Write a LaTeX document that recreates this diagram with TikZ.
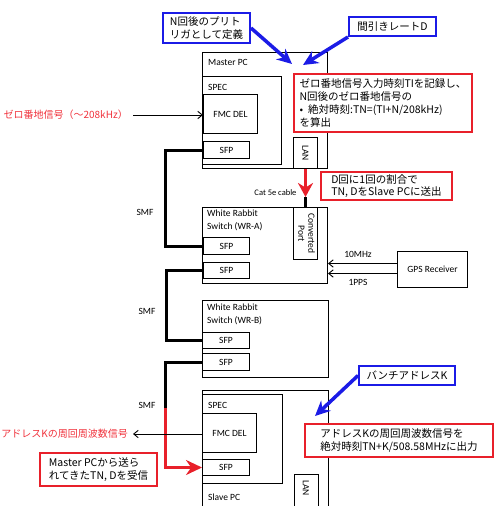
\documentclass[tikz,border=0pt]{standalone}
\usepackage{fontspec}
\usepackage{graphicx}
\setmainfont{Carlito}
\newfontfamily\jp{Noto Sans CJK JP}
\usetikzlibrary{arrows.meta,positioning,calc}
\definecolor{callred}{HTML}{E8202A}
\definecolor{callblue}{HTML}{1B1BE6}
\definecolor{sigred}{HTML}{F0323C}

\begin{document}
\begin{tikzpicture}[x=1pt, y=-1pt,
    font=\fontsize{9.5}{11}\selectfont,
    box/.style={draw, line width=1pt, anchor=north west, inner sep=0pt},
    tag/.style={anchor=west, inner sep=0pt},
    twoline/.style={anchor=north west, inner sep=0pt, align=left, font=\fontsize{9.5}{13}\selectfont},
    note/.style={draw=callred, line width=2pt, fill=white, align=left, inner sep=0pt, font=\jp\fontsize{10.5}{12.8}\selectfont},
    hint/.style={note, draw=callblue},
    redtext/.style={text=sigred, font=\jp\fontsize{10}{12}\selectfont, anchor=east, inner xsep=5pt},
    fiber/.style={line width=3pt},
    sig/.style={-{Straight Barb[length=1.6mm, width=2.6mm]}, line width=0.9pt},
    push/.style={line width=3.5pt, callblue, -{Stealth[length=15pt, width=14pt]}}
  ]
    \useasboundingbox (0,0) rectangle (494,506);

    % Master PC
    \node[box, minimum width=125pt, minimum height=116pt] (master) at (202,52) {};
    \node[tag] (mastertxt) at (208,62) {Master PC};
    \node[box, minimum width=79pt, minimum height=88pt] (mspec) at (202,76) {};
    \node[tag] (mspectxt) at (208,87) {SPEC};
    \node[box, minimum width=54pt, minimum height=39pt] (mfmc) at (203,94) {FMC DEL};
    \node[box, minimum width=46pt, minimum height=17pt] (msfp) at (203,141) {SFP};
    \node[box, minimum width=24pt, minimum height=31pt] (mlan) at (293,137) {\rotatebox{-90}{LAN}};

    % WR-A
    \node[box, minimum width=125pt, minimum height=76pt] (wra) at (202,207) {};
    \node[twoline] (wratxt) at (207,210) {White Rabbit\\Switch (WR-A)};
    \node[box, minimum width=24pt, minimum height=52pt] (conv) at (293,207)
      {\rotatebox{-90}{\begin{tabular}{@{}c@{}}Converted\\[-1pt]Port\end{tabular}}};
    \node[box, minimum width=46pt, minimum height=17pt] (asfp1) at (203,237) {SFP};
    \node[box, minimum width=46pt, minimum height=16pt] (asfp2) at (203,262) {SFP};
    \node[box, minimum width=70pt, minimum height=36pt] (gps) at (397,251) {GPS Receiver};

    % WR-B
    \node[box, minimum width=126pt, minimum height=77pt] (wrb) at (202,300) {};
    \node[twoline] (wrbtxt) at (207,304) {White Rabbit\\Switch (WR-B)};
    \node[box, minimum width=47pt, minimum height=16pt] (bsfp1) at (202,332) {SFP};
    \node[box, minimum width=47pt, minimum height=17pt] (bsfp2) at (202,353) {SFP};

    % Slave PC (runs off the bottom)
    \node[box, minimum width=126pt, minimum height=124pt] (slave) at (202,390) {};
    \node[box, minimum width=80pt, minimum height=89pt] (sspec) at (202,394) {};
    \node[tag] (sspectxt) at (208,405) {SPEC};
    \node[box, minimum width=54pt, minimum height=39pt] (sfmc) at (202,413) {FMC DEL};
    \node[box, minimum width=47pt, minimum height=16pt] (ssfp) at (202,459) {SFP};
    \node[box, minimum width=24pt, minimum height=40pt] (slan) at (294,474) {};
    \node (slantxt) at (306,488) {\rotatebox{-90}{LAN}};
    \node[tag] (slavetxt) at (208,497) {Slave PC};

    % fibres and cables
    \draw[fiber] (msfp.west) -- ++(-38,0) |- (asfp1.west);
    \draw[fiber] (asfp2.west) -- ++(-37,0) |- (bsfp1.west);
    \coordinate (fsplit) at (165,408);
    \draw[fiber] (bsfp2.west) -| (fsplit);
    \draw[fiber, callred, -{Stealth[length=16pt, width=15pt]}] (fsplit) |- (ssfp.west);
    \node (smf1) at (145,212) {SMF};
    \node (smf2) at (147,311) {SMF};
    \node (smf3) at (147,405) {SMF};

    \coordinate (catend) at ($(conv.north)+(0,-10)$);
    \draw[fiber, callred, -{Stealth[length=14pt, width=15pt]}] (mlan.south) -- (catend);
    \draw[fiber] (catend) -- (conv.north);
    \node[anchor=east, font=\fontsize{8.5}{10}\selectfont] (cat) at (300,193) {Cat 5e cable};

    % GPS signals
    \coordinate (tenin) at ($(gps.west)+(0,-6)$);
    \coordinate (ppsin) at ($(gps.west)+(0,4)$);
    \draw[sig] (tenin) -- (tenin -| wra.east);
    \draw[sig] (ppsin) -- (ppsin -| wra.east);
    \node (ten) at (358,254) {10MHz};
    \node (pps) at (358,282) {1PPS};

    % external signals
    \node[redtext] (zsig) at (133,115) {ゼロ番地信号（〜208kHz）};
    \draw[sig] (zsig.east) -- (zsig.east -| mfmc.west);
    \node[redtext] (ksig) at (133,434) {アドレスKの周回周波数信号};
    \draw[sig] (ksig.east -| sfmc.west) -- (ksig.east);

    % callouts
    \node[hint, minimum width=87pt, minimum height=30pt] (trig) at (206.5,28) {N回後のプリト\\リガとして定義};
    \node[hint, minimum width=87pt, minimum height=19pt] (rate) at (392.5,26.5) {間引きレートD};
    \node[note, minimum width=178pt, minimum height=58pt] (calc) at (383,103)
      {ゼロ番地信号入力時刻TIを記録し、\\N回後のゼロ番地信号の\\•\hspace{5pt}絶対時刻:TN=(TI+N/208kHz)\\を算出};
    \node[note, minimum width=131pt, minimum height=28pt] (send) at (386.5,186) {D回に1回の割合で\\TN, DをSlave PCに送出};
    \node[hint, minimum width=96pt, minimum height=19pt] (bunch) at (407,375.5) {バンチアドレスK};
    \node[note, minimum width=188pt, minimum height=33pt] (out) at (399,440.5)
      {アドレスKの周回周波数信号を\\絶対時刻TN+K/508.58MHzに出力};
    \node[note, minimum width=117pt, minimum height=33pt] (recv) at (98.5,469.5) {Master PCから送ら\\れてきたTN, Dを受信};

    \coordinate (trigtip) at (292,64);
    \coordinate (ratetip) at (303,65);
    \coordinate (bunchtip) at (315,416);
    \draw[push] (trig.east) -- (trigtip);
    \draw[push] (rate.south west) -- (ratetip);
    \draw[push] (bunch.west) -- (bunchtip);
  \end{tikzpicture}
\end{document}
